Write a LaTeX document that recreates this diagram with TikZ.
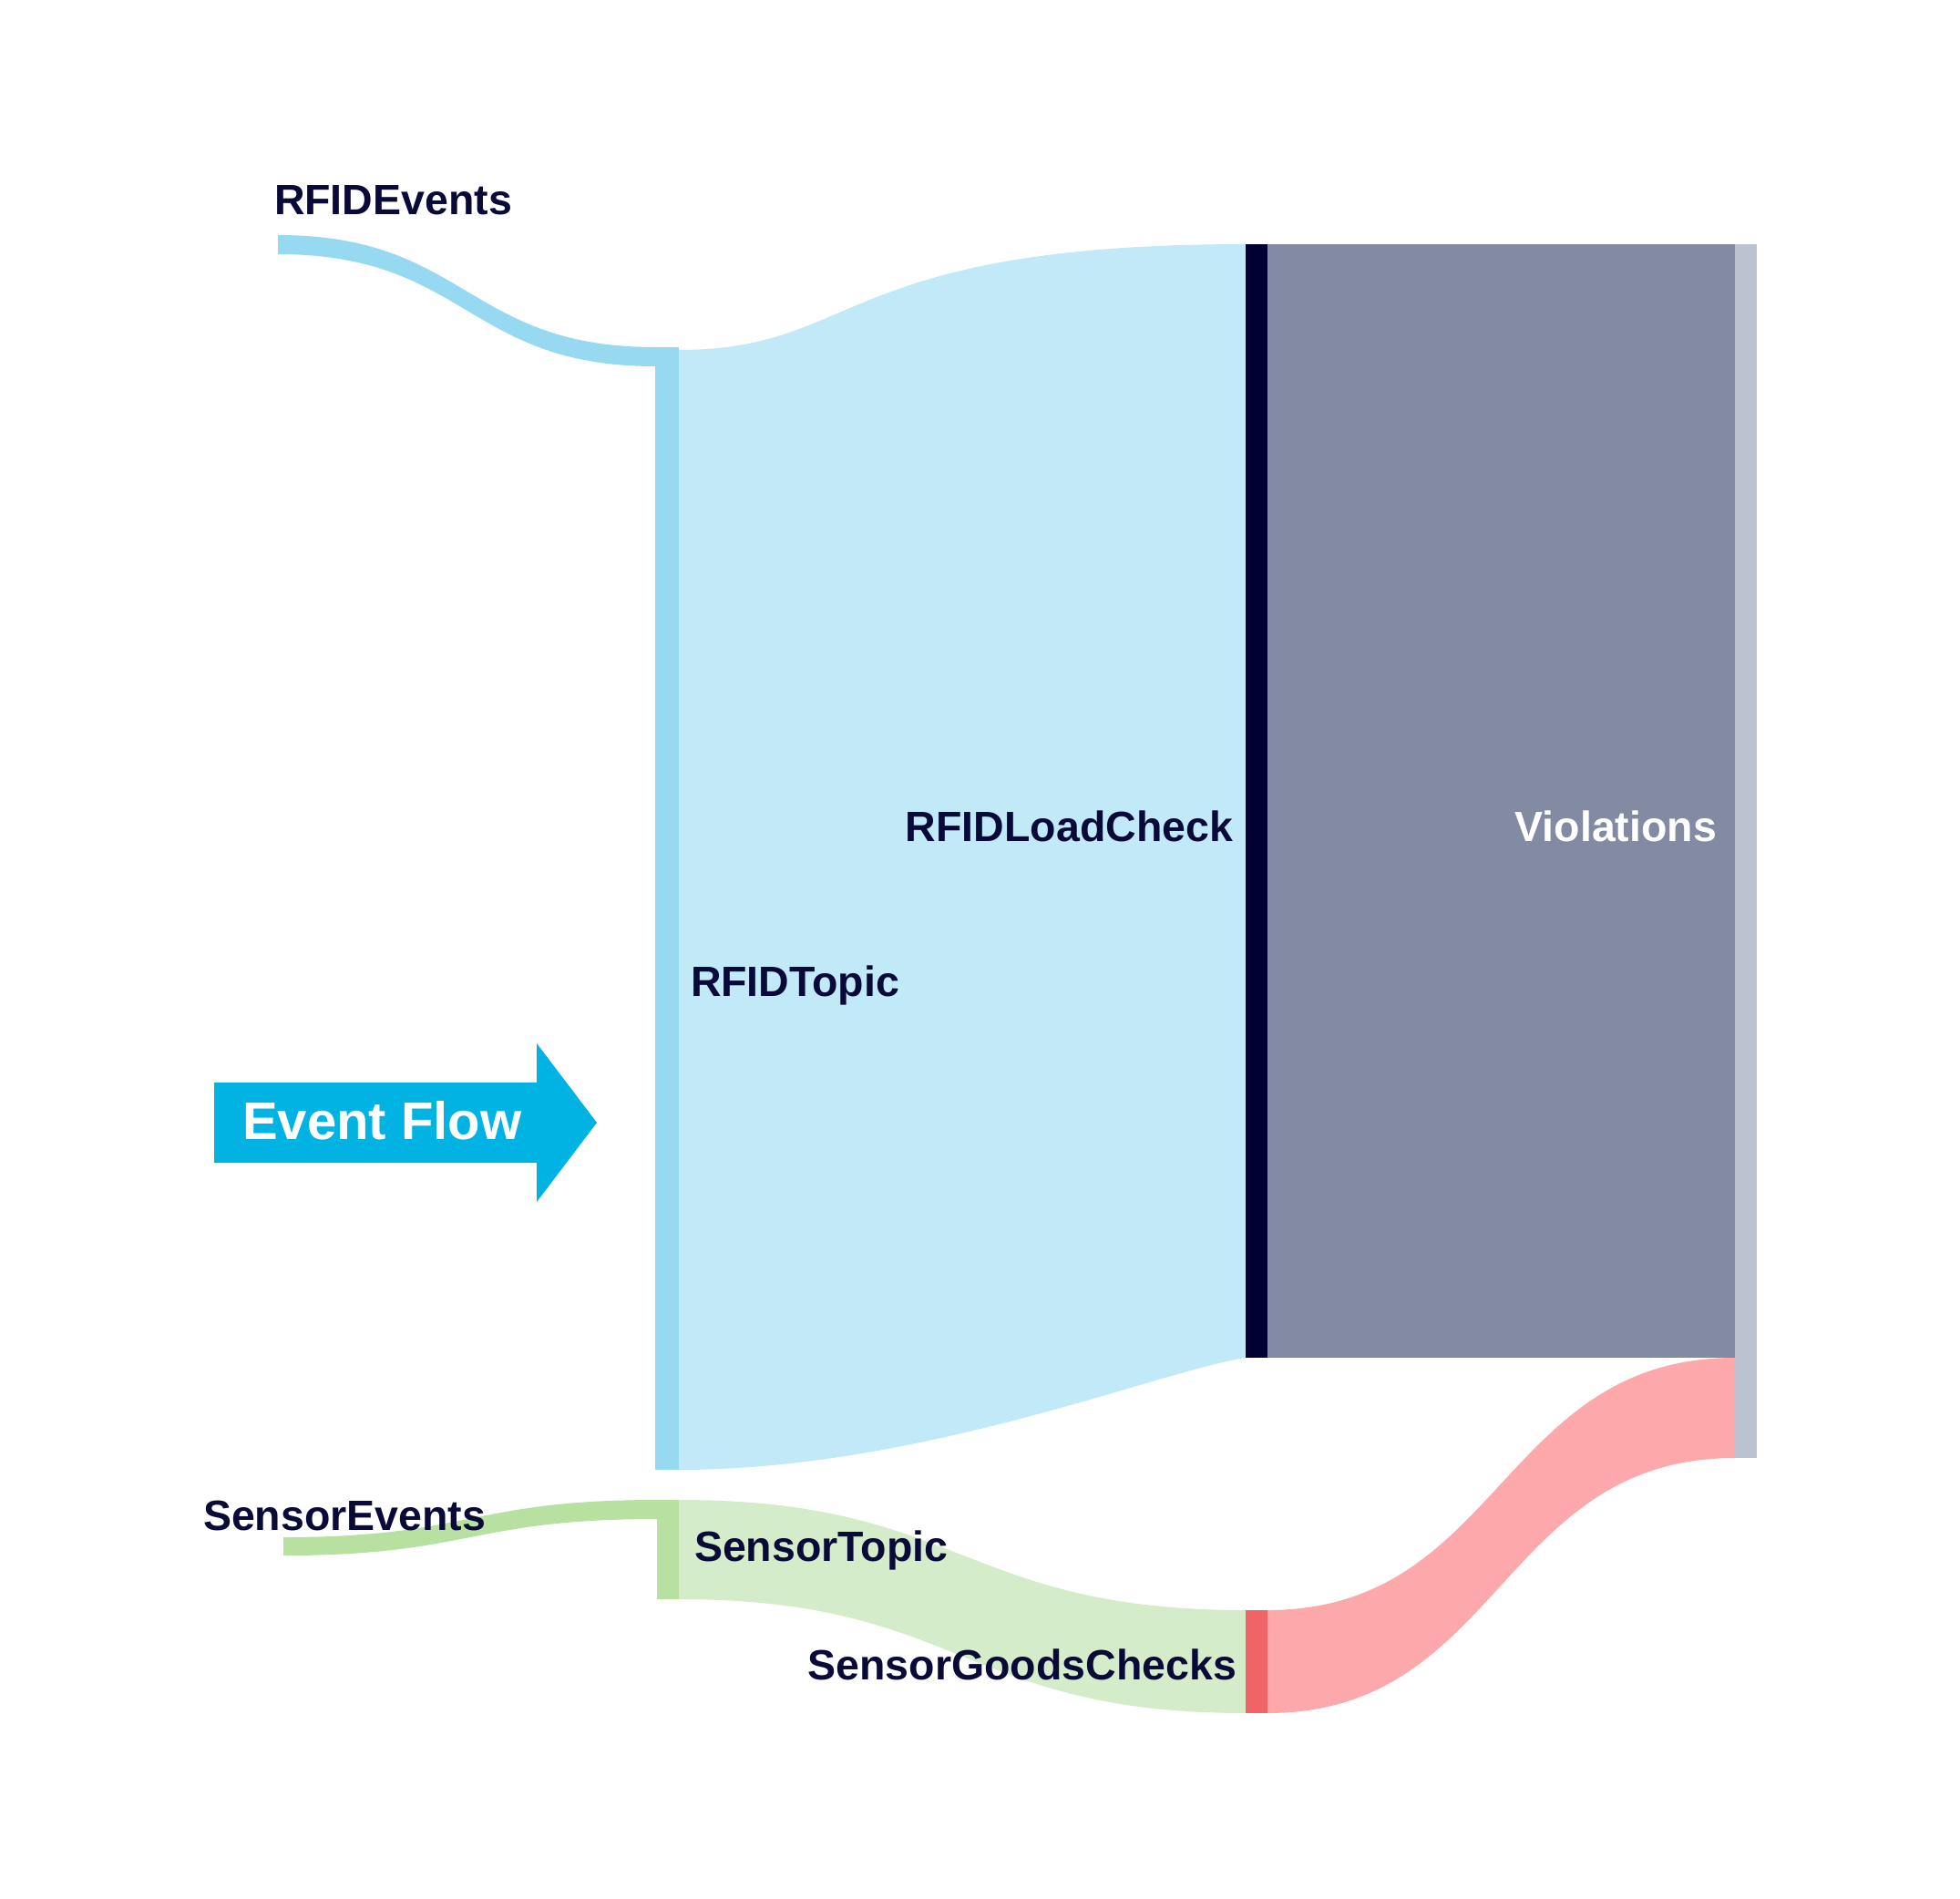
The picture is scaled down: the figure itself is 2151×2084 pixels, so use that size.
\documentclass[tikz,border=0pt]{standalone}
\usepackage{fontspec}
\setmainfont{Liberation Sans}
\definecolor{txt}{HTML}{0A0A38}
\definecolor{rbar}{HTML}{97D9F1}
\definecolor{rlink}{HTML}{C1E9F8}
\definecolor{gbar}{HTML}{B8E0A0}
\definecolor{glink}{HTML}{D5ECCA}
\definecolor{navy}{HTML}{000033}
\definecolor{vlink}{HTML}{838BA2}
\definecolor{vbar}{HTML}{BCC3D0}
\definecolor{redbar}{HTML}{F06468}
\definecolor{redlink}{HTML}{FDA9AB}
\definecolor{flow}{HTML}{00B3E3}
\begin{document}
\begin{tikzpicture}[x=1pt,y=-1pt,
  bar/.style={inner sep=0pt,outer sep=0pt,anchor=north west,draw=none},
  lbl/.style={inner sep=0pt,outer sep=0pt,text=txt,font=\fontsize{46.5}{50}\selectfont\bfseries}]
\useasboundingbox[fill=white] (0,0) rectangle (2151,2084);
% ---- nodes (bars)
\node[bar,fill=rbar,minimum width=26pt,minimum height=1232pt] (rtopic) at (719,381) {};
\node[bar,fill=gbar,minimum width=24pt,minimum height=109pt] (stopic) at (721,1646) {};
\node[bar,fill=navy,minimum width=24pt,minimum height=1222pt] (rload) at (1367,268) {};
\node[bar,fill=redbar,minimum width=24pt,minimum height=113pt] (sgoods) at (1367,1767) {};
\node[bar,fill=vbar,minimum width=24pt,minimum height=1332pt] (viol) at (1904,268) {};
\coordinate (revents) at (305,258);
\coordinate (sevents) at (311,1687);
% ---- links
\fill[rbar] (revents) .. controls (512,258) and (512,381) .. (rtopic.north west)
  -- (719,402) .. controls (512,402) and (512,279) .. (305,279) -- cycle;
\fill[rlink] (745,384) .. controls (945,384) and (917,268) .. (rload.north west)
  -- (rload.south west) .. controls (1270,1505) and (1010,1613) .. (rtopic.south east) -- cycle;
\fill[vlink] (rload.north east) rectangle (1904,1490);
\fill[gbar] (sevents) .. controls (516,1687) and (516,1646) .. (stopic.north west)
  -- (721,1667) .. controls (516,1667) and (516,1707) .. (311,1707) -- cycle;
\fill[glink] (stopic.north east) .. controls (1056,1646) and (1056,1767) .. (sgoods.north west)
  -- (sgoods.south west) .. controls (1056,1880) and (1056,1755) .. (stopic.south east) -- cycle;
\fill[redlink] (sgoods.north east) .. controls (1647,1767) and (1647,1490) .. (1904,1490)
  -- (1904,1600) .. controls (1647,1600) and (1647,1880) .. (sgoods.south east) -- cycle;
% bars on top of the links
\fill[rbar] (rtopic.north west) rectangle (rtopic.south east);
\fill[gbar] (stopic.north west) rectangle (stopic.south east);
\fill[navy] (rload.north west) rectangle (rload.south east);
\fill[redbar] (sgoods.north west) rectangle (sgoods.south east);
\fill[vbar] (viol.north west) rectangle (viol.south east);
% ---- labels
\node[lbl,anchor=base west] (leve) at (301,236) {RFIDEvents};
\node[lbl,anchor=base west] (lsev) at (223,1679) {SensorEvents};
\node[lbl,anchor=base west] (lsto) at (762,1713) {SensorTopic};
\node[lbl,anchor=base east] (lsgc) at (1357,1843) {SensorGoodsChecks};
\node[lbl,anchor=base east] (lrlc) at (1353,923) {RFIDLoadCheck};
\node[lbl,anchor=base east,text=white] (lvio) at (1884,923) {Violations};
\node[lbl,anchor=base west] (lrto) at (758,1093) {RFIDTopic};
% ---- Event Flow arrow
\fill[flow] (235,1188) -- (589,1188) -- (589,1145) -- (655,1232) -- (589,1319) -- (589,1276) -- (235,1276) -- cycle;
\node[inner sep=0pt,anchor=base west,text=white,font=\fontsize{58}{62}\selectfont\bfseries] (eflow) at (266,1250) {Event Flow};
\end{tikzpicture}
\end{document}
